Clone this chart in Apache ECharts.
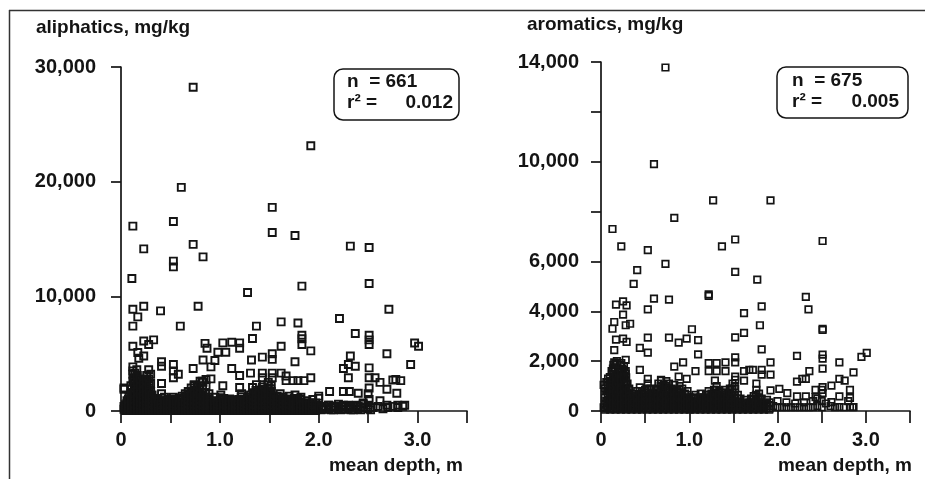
<!DOCTYPE html>
<html>
<head>
<meta charset="utf-8">
<script src="https://cdn.jsdelivr.net/npm/echarts@6/dist/echarts.min.js"></script>
<style>
  html, body { margin: 0; padding: 0; background: #fff; }
  #chart { width: 925px; height: 479px; }
</style>
</head>
<body>
<div id="chart"></div>
<script>
// aliphatics: scattered high values [depth m, mg/kg]
const aliHigh = [
  [0.73, 28230], [1.92, 23130], [0.61, 19500], [1.53, 17760], [0.12, 16120], [0.53, 16530],
  [1.53, 15570], [1.76, 15310], [0.23, 14140], [0.73, 14530], [2.32, 14380], [2.51, 14260],
  [0.83, 13440], [0.53, 13070], [0.53, 12570], [0.11, 11560], [1.83, 10890], [2.51, 11120],
  [1.28, 10340], [0.12, 8880], [0.23, 9140], [0.78, 9140], [0.40, 8730], [2.71, 8880],
  [0.17, 8210], [0.12, 7400], [0.60, 7400], [1.37, 7400], [1.62, 7770], [1.79, 7680],
  [2.21, 8070], [0.12, 5650], [0.23, 6100], [0.33, 6200], [0.28, 5800], [1.33, 6320],
  [1.83, 6600], [1.83, 6300], [1.83, 5800], [2.37, 6760], [2.51, 6600], [2.51, 6200],
  [2.51, 5800], [2.97, 5930], [3.01, 5650], [1.62, 5650], [1.92, 5240], [0.85, 5900],
  [0.87, 5470], [1.03, 5940], [1.12, 6000], [1.20, 5940], [1.20, 5470], [0.98, 5130],
  [0.95, 4400], [1.06, 5130], [2.69, 4990], [0.17, 5100], [0.23, 4800], [1.53, 4990],
  [1.53, 4500], [2.32, 4800], [1.43, 4700], [1.32, 4450], [0.83, 4450], [1.76, 4300],
  [0.41, 4300], [0.41, 3900], [0.91, 3850], [0.53, 4050], [2.93, 4050], [2.37, 3900],
  [2.30, 4050], [0.73, 3700], [1.12, 3700], [2.51, 3760], [2.25, 3700], [0.12, 3850],
  [0.12, 3500], [0.53, 3500], [0.53, 2900], [0.58, 3200], [1.20, 3100], [1.31, 3300],
  [1.43, 3300], [1.43, 2900], [1.53, 3300], [1.53, 2900], [1.62, 3300], [1.67, 3050],
  [2.30, 2900], [2.51, 2900], [2.57, 2900], [2.62, 2500], [2.75, 2700], [2.78, 2750],
  [2.83, 2650], [2.69, 1900], [2.79, 1550], [2.51, 2000], [2.40, 1550], [2.31, 1700],
  [2.25, 1700], [2.11, 1700], [1.92, 2900], [1.79, 2650], [1.85, 2650], [1.74, 2650],
  [1.67, 2650], [1.03, 2200], [1.20, 2050], [1.33, 2050], [0.91, 2800], [0.86, 2750],
  [0.82, 2600], [0.74, 2200], [0.03, 2000], [0.41, 2400], [2.62, 900], [2.69, 500],
  [2.80, 500], [2.87, 500], [2.45, 700], [2.51, 1000], [2.10, 500], [2.17, 450],
  [2.25, 500], [2.31, 450], [2.38, 500], [2.00, 1300]
];

// aliphatics: dense low band, [depth, values at that depth]
const aliLow = [
  [0.03, [150, 400, 1900]], [0.06, [100, 300, 650, 900]], [0.08, [200, 500, 800, 1200]],
  [0.10, [100, 350, 600, 1000, 1500, 2200]], [0.12, [150, 400, 700, 1100, 1600, 2600, 3200]],
  [0.14, [100, 300, 550, 900, 1300, 1800, 2400, 3300]], [0.16, [200, 450, 750, 1050, 1400, 2000, 2900, 3600]],
  [0.18, [100, 350, 600, 900, 1250, 1700, 2300, 4600]], [0.20, [150, 400, 700, 1000, 1400, 1900, 2700]],
  [0.22, [100, 300, 550, 850, 1150, 1600, 2100, 2600]], [0.24, [200, 450, 750, 1050, 1350, 1800, 2500]],
  [0.26, [100, 350, 650, 950, 1300, 1700, 2200, 3100]], [0.28, [150, 400, 700, 1000, 1500, 2000, 2800, 3600]],
  [0.30, [100, 300, 600, 900, 1200, 1700, 2400, 3200]], [0.32, [200, 500, 800, 1100]],
  [0.35, [100, 350, 650, 1000]], [0.38, [150, 450, 800]], [0.41, [100, 400, 700, 1100, 1500]],
  [0.44, [200, 500, 850, 1200]], [0.47, [100, 350, 700]], [0.50, [150, 450, 800, 1000]],
  [0.53, [100, 300, 600, 900, 1200]], [0.56, [200, 500, 750]], [0.59, [100, 400, 700, 1100]],
  [0.62, [150, 450, 800, 1300]], [0.65, [100, 350, 650, 950, 1500]], [0.68, [200, 500, 800, 1200, 1700]],
  [0.71, [100, 400, 750, 1100, 1600, 2000]], [0.74, [150, 450, 800, 1200, 1800, 2300]],
  [0.77, [100, 350, 700, 1000, 1400, 2100]], [0.80, [200, 500, 850, 1300, 1900, 2600]],
  [0.83, [100, 400, 750, 1100, 1600, 2500]], [0.86, [150, 450, 800, 1200, 2200]],
  [0.89, [100, 350, 700, 1000, 1500]], [0.92, [200, 500, 850]], [0.95, [100, 400, 700, 1200]],
  [0.98, [150, 450, 800]], [1.01, [100, 350, 650, 1000, 1400]], [1.04, [200, 500, 800, 1100]],
  [1.07, [100, 400, 700, 1000]], [1.10, [150, 450, 750, 1050]], [1.13, [100, 350, 650, 950]],
  [1.16, [200, 500, 800]], [1.19, [100, 400, 700, 1000]], [1.22, [150, 450, 750, 1050, 1500]],
  [1.25, [100, 350, 650, 950]], [1.28, [200, 500, 800, 1200]], [1.31, [100, 400, 700, 1000, 1400]],
  [1.34, [150, 450, 750, 1100, 1600]], [1.37, [100, 350, 700, 1050, 1500, 2300]],
  [1.40, [200, 500, 850, 1200, 1800]], [1.43, [100, 400, 750, 1100, 1600, 2100]],
  [1.46, [150, 450, 800, 1200, 1700]], [1.49, [100, 350, 700, 1050, 1500, 2000, 2500]],
  [1.52, [200, 500, 850, 1250, 1700, 2200]], [1.55, [100, 400, 750, 1100]],
  [1.58, [150, 450, 800, 1300]], [1.61, [100, 350, 650, 1000, 1500]], [1.64, [200, 500, 800, 1200]],
  [1.67, [100, 400, 700, 1050]], [1.70, [150, 450, 750, 1300]], [1.73, [100, 350, 650, 1000]],
  [1.76, [200, 500, 800, 1400]], [1.79, [100, 400, 700, 1100]], [1.82, [150, 450, 750, 1200]],
  [1.85, [100, 350, 650]], [1.88, [200, 500, 900]], [1.91, [100, 400, 700]], [1.94, [150, 450, 1000]],
  [1.97, [100, 350, 700]], [2.00, [200, 500, 1100]], [2.05, [150, 400]], [2.10, [200, 500]],
  [2.15, [100, 400]], [2.20, [200, 600]], [2.25, [150, 400]], [2.30, [200, 500]], [2.35, [100, 400]],
  [2.40, [200, 450]], [2.45, [300, 600]], [2.50, [200, 500, 1500]], [2.55, [300]], [2.60, [400]],
  [2.65, [200]], [2.70, [300]], [2.75, [400]], [2.80, [300]], [2.85, [400]]
];

// aliphatics: more low-band samples between the columns above
const aliLow2 = [
  [0.045, [50, 250, 550]], [0.075, [100, 300, 600, 1000]], [0.105, [50, 250, 500, 850, 1300, 1900]],
  [0.135, [100, 350, 600, 1000, 1500, 2100, 2800]], [0.165, [50, 250, 550, 900, 1200, 1700, 2500, 3100]],
  [0.195, [100, 300, 500, 800, 1100, 1500, 2100, 2800]], [0.225, [50, 250, 450, 750, 1000, 1400, 1900, 2400]],
  [0.255, [100, 300, 550, 850, 1150, 1500, 2000, 2700]], [0.285, [50, 250, 500, 800, 1100, 1300, 1800, 2300]],
  [0.315, [100, 350, 650, 1000, 1400]], [0.345, [50, 250, 500, 850]], [0.375, [100, 300, 600]],
  [0.405, [50, 250, 550, 900]], [0.435, [100, 350, 650]], [0.465, [50, 250, 500, 900]],
  [0.495, [100, 300, 600]], [0.525, [50, 250, 450, 750, 1000]], [0.555, [100, 350, 600, 900]],
  [0.585, [50, 250, 550]], [0.615, [100, 300, 600, 1000]], [0.645, [50, 250, 500, 800, 1200]],
  [0.675, [100, 350, 650, 1000, 1400]], [0.705, [50, 250, 550, 900, 1300]], [0.735, [100, 300, 600, 1000, 1500]],
  [0.765, [50, 250, 550, 850, 1200, 1700]], [0.795, [100, 350, 650, 1000, 1500, 2200]],
  [0.825, [50, 250, 550, 900, 1300, 2000]], [0.855, [100, 300, 600, 1000, 1600]],
  [0.885, [50, 250, 500, 850, 1200]], [0.915, [100, 350, 650]], [0.945, [50, 250, 550, 900]],
  [0.975, [100, 300, 600]], [1.005, [50, 250, 500, 800, 1150]], [1.035, [100, 350, 650, 950]],
  [1.065, [50, 250, 550, 850]], [1.095, [100, 300, 600, 900]], [1.125, [50, 250, 500, 800]],
  [1.155, [100, 350, 650]], [1.185, [50, 250, 550, 850]], [1.215, [100, 300, 600, 900, 1250]],
  [1.245, [50, 250, 500, 800]], [1.275, [100, 350, 650, 1000]], [1.305, [50, 250, 550, 850, 1200]],
  [1.335, [100, 300, 600, 950, 1350]], [1.365, [50, 250, 550, 900, 1250, 1800]],
  [1.395, [100, 350, 650, 1000, 1500]], [1.425, [50, 250, 550, 900, 1350, 1900]],
  [1.455, [100, 300, 600, 1000, 1450]], [1.485, [50, 250, 550, 900, 1250, 1750, 2300]],
  [1.515, [100, 350, 650, 1050, 1450, 1950]], [1.545, [50, 250, 550, 900, 1300]],
  [1.575, [100, 300, 600, 1000]], [1.605, [50, 250, 500, 850, 1200]], [1.635, [100, 350, 650, 1000]],
  [1.665, [50, 250, 550, 850]], [1.695, [100, 300, 600, 1000]], [1.725, [50, 250, 500, 850]],
  [1.755, [100, 350, 650, 1100]], [1.785, [50, 250, 550, 900]], [1.815, [100, 300, 600, 1000]],
  [1.845, [50, 250, 500]], [1.875, [100, 350, 700]], [1.905, [50, 250, 550]], [1.935, [100, 300, 700]],
  [1.965, [50, 250, 500]], [2.025, [100, 300]], [2.125, [100, 300]], [2.225, [100, 350]],
  [2.325, [100, 300]], [2.425, [100, 350]], [2.525, [100, 300]]
];

// aromatics: scattered high values
const aroHigh = [
  [0.73, 13780], [0.60, 9900], [1.27, 8450], [1.92, 8450], [0.83, 7750], [0.13, 7300],
  [0.23, 6600], [0.53, 6450], [1.37, 6600], [1.52, 6880], [2.51, 6820], [0.73, 5900],
  [0.41, 5650], [1.52, 5580], [0.37, 5100], [1.77, 5270], [1.22, 4680], [1.22, 4620],
  [0.60, 4510], [0.77, 4470], [2.32, 4580], [0.53, 4080], [1.82, 4200], [2.35, 4080],
  [1.62, 3930], [0.17, 4270], [0.25, 4400], [0.29, 4240], [0.25, 3870], [0.15, 3570],
  [0.13, 3300], [0.28, 3440], [0.33, 3500], [1.80, 3440], [2.51, 3300], [2.51, 3250],
  [1.62, 3130], [1.52, 2950], [1.03, 3280], [0.17, 2860], [0.25, 2900], [0.29, 2770],
  [0.53, 2940], [0.77, 2940], [0.88, 2740], [0.97, 2900], [1.10, 2840], [0.44, 2530],
  [0.15, 2440], [0.53, 2340], [1.10, 2270], [1.82, 2470], [2.22, 2210], [2.51, 2260],
  [2.51, 2100], [2.51, 1700], [3.01, 2330], [2.95, 2170],
  [0.15, 1950], [0.23, 1920], [0.28, 2050], [0.93, 1950], [1.22, 1920], [1.31, 1920],
  [1.41, 1950], [1.52, 2150], [1.52, 1950], [1.92, 1950], [2.70, 1950],
  [0.15, 1750], [0.44, 1650], [0.83, 1780], [1.07, 1600], [1.22, 1600], [1.31, 1600],
  [1.41, 1600], [1.62, 1600], [1.68, 1650], [1.72, 1650], [1.82, 1650], [1.82, 1460],
  [1.92, 1460], [2.36, 1600], [2.28, 1290], [2.32, 1290], [2.22, 1180], [2.86, 1550],
  [0.06, 1160], [0.10, 1360], [0.22, 1320], [0.28, 1490], [0.53, 1290], [0.68, 1220],
  [0.88, 1380], [0.97, 1290], [1.29, 1220], [1.52, 1380], [1.62, 1220], [2.70, 1290],
  [2.76, 1220], [2.61, 1020], [2.51, 960], [2.43, 850], [2.70, 585], [2.82, 850],
  [2.82, 530], [2.61, 360], [2.70, 160], [2.82, 160], [2.86, 160], [1.92, 825],
  [2.02, 890], [2.11, 720], [2.22, 585], [2.32, 585], [2.43, 560], [2.51, 720]
];

// aromatics: dense low band
const aroLow = [
  [0.03, [150, 1050]], [0.06, [100, 400, 800]], [0.08, [200, 600, 1000, 1300]], [0.10, [100, 350, 700, 1050]],
  [0.12, [200, 500, 850, 1200, 1600]], [0.14, [100, 400, 750, 1100, 1500, 1850]],
  [0.16, [200, 550, 900, 1250, 1700]], [0.18, [100, 350, 700, 1000, 1400, 2000]],
  [0.20, [200, 500, 850, 1200, 1600]], [0.22, [100, 400, 750, 1100, 1450, 1850]],
  [0.24, [200, 550, 900, 1300, 1700]], [0.26, [100, 350, 700, 1050, 1400, 1800]],
  [0.28, [200, 500, 850, 1200, 1600]], [0.30, [100, 400, 750, 1100]], [0.32, [200, 550, 900]],
  [0.35, [100, 350, 700]], [0.38, [200, 500]], [0.41, [100, 400, 800]], [0.44, [200, 550, 950]],
  [0.47, [100, 350, 700]], [0.50, [200, 500, 850]], [0.53, [100, 400, 750, 1100]], [0.56, [200, 550, 900]],
  [0.59, [100, 350, 700]], [0.62, [200, 500, 850]], [0.65, [100, 400, 750, 1100]],
  [0.68, [200, 550, 900, 1250]], [0.71, [100, 350, 700, 1050]], [0.74, [200, 500, 850, 1200]],
  [0.77, [100, 400, 750, 1100]], [0.80, [200, 550, 900]], [0.83, [100, 350, 700, 1050]],
  [0.86, [200, 500, 850]], [0.89, [100, 400, 750, 1000]], [0.92, [200, 550, 900]], [0.95, [100, 350, 700]],
  [0.98, [200, 500, 800]], [1.01, [100, 400]], [1.04, [200, 550]], [1.07, [100, 350, 650]],
  [1.10, [200, 500]], [1.13, [100, 400, 700]], [1.16, [200, 550]], [1.19, [100, 350, 650]],
  [1.22, [200, 500, 800]], [1.25, [100, 400, 700]], [1.28, [200, 550, 850]], [1.31, [100, 350, 700, 1000]],
  [1.34, [200, 500, 800]], [1.37, [100, 400, 750]], [1.40, [200, 550, 850]], [1.43, [100, 350, 700]],
  [1.46, [200, 500, 900]], [1.49, [100, 400, 750, 1100]], [1.52, [200, 550, 900, 1250]],
  [1.55, [100, 350, 650]], [1.58, [200, 500]], [1.61, [100, 300]], [1.64, [200, 450]], [1.67, [100, 350]],
  [1.70, [200, 500]], [1.73, [100, 300, 600]], [1.76, [200, 500, 850, 1100]], [1.79, [100, 350, 700]],
  [1.82, [200, 500]], [1.85, [100, 300]], [1.88, [200, 450]], [1.91, [100, 350]], [1.95, [200]],
  [2.00, [150, 400]], [2.05, [150]], [2.10, [150, 350]], [2.15, [150]], [2.20, [150, 300]], [2.25, [150]],
  [2.30, [150, 350]], [2.35, [150]], [2.40, [150, 400]], [2.45, [200, 500]], [2.50, [150, 400, 850]],
  [2.55, [300]], [2.60, [200]], [2.65, [150]], [2.75, [150]], [2.80, [400]], [2.85, [150]]
];

// aromatics: more low-band samples between the columns above
const aroLow2 = [
  [0.045, [50, 250, 550, 900]], [0.075, [100, 350, 700, 1150]], [0.105, [50, 250, 550, 900, 1200]],
  [0.135, [100, 300, 600, 950, 1300, 1700]], [0.165, [50, 250, 450, 750, 1100, 1450, 1900]],
  [0.195, [100, 300, 600, 900, 1250, 1600]], [0.225, [50, 250, 500, 850, 1200, 1550]],
  [0.255, [100, 300, 600, 950, 1300, 1650]], [0.285, [50, 250, 450, 750, 1050, 1350]],
  [0.315, [100, 300, 600, 850]], [0.345, [50, 250, 500]], [0.375, [100, 350, 600]], [0.405, [50, 250, 550]],
  [0.435, [100, 300, 650]], [0.465, [50, 250, 500, 800]], [0.495, [100, 350, 650]],
  [0.525, [50, 250, 550, 900]], [0.555, [100, 300, 650]], [0.585, [50, 250, 500]], [0.615, [100, 350, 650]],
  [0.645, [50, 250, 550, 900]], [0.675, [100, 300, 650, 1000]], [0.705, [50, 250, 500, 850]],
  [0.735, [100, 350, 650, 1000]], [0.765, [50, 250, 550, 900]], [0.795, [100, 300, 650]],
  [0.825, [50, 250, 500, 850]], [0.855, [100, 350, 650]], [0.885, [50, 250, 550, 850]],
  [0.915, [100, 300, 650]], [0.945, [50, 250, 500]], [0.975, [100, 350, 650]], [1.005, [50, 250, 550]],
  [1.035, [100, 300]], [1.065, [50, 250, 500]], [1.095, [100, 350]], [1.125, [50, 250, 550]],
  [1.155, [100, 300]], [1.185, [50, 250, 500]], [1.215, [100, 350, 650]], [1.245, [50, 250, 550]],
  [1.275, [100, 300, 650]], [1.305, [50, 250, 500, 850]], [1.335, [100, 350, 650]], [1.365, [50, 250, 550]],
  [1.395, [100, 300, 650]], [1.425, [50, 250, 500]], [1.455, [100, 350, 700]], [1.485, [50, 250, 550, 900]],
  [1.515, [100, 300, 650, 1000]], [1.545, [50, 250, 500]], [1.575, [100, 350]], [1.605, [50, 250]],
  [1.635, [100, 300]], [1.665, [50, 250]], [1.695, [100, 350]], [1.725, [50, 250, 450]],
  [1.755, [100, 300, 650]], [1.785, [50, 250, 550]], [1.815, [100, 350]], [1.845, [50, 250]],
  [1.875, [100, 300]], [1.905, [50, 250]]
];

const depthTicks = ['0', '1.0', '2.0', '3.0'];
const aroHiddenTicks = [8000, 12000];

function points(high, lows) {
  const out = high.slice();
  lows.forEach(function (low) {
    low.forEach(function (col) {
      col[1].forEach(function (v) { out.push([col[0], v]); });
    });
  });
  return out;
}

const ink = '#141414';
const font = 'Liberation Sans, Arial, sans-serif';

function xAxis(gridIndex) {
  return {
    gridIndex: gridIndex, type: 'value', min: 0, max: 3.5, interval: 0.5,
    axisLine: { lineStyle: { color: ink, width: 1.7 } },
    axisTick: { length: 12, lineStyle: { color: ink, width: 1.7 } },
    splitLine: { show: false },
    axisLabel: {
      margin: 19, fontSize: 20, fontWeight: 'bold', color: ink, fontFamily: font,
      formatter: function (v) {
        const s = v === 0 ? '0' : v.toFixed(1);
        return depthTicks.indexOf(s) >= 0 ? s : '';
      }
    }
  };
}

function yAxis(gridIndex, max, interval, margin) {
  return {
    gridIndex: gridIndex, type: 'value', min: 0, max: max, interval: interval,
    axisLine: { show: true, lineStyle: { color: ink, width: 1.7 } },
    axisTick: { show: true, length: 10, lineStyle: { color: ink, width: 1.7 } },
    splitLine: { show: false },
    axisLabel: {
      margin: margin, fontSize: 20, fontWeight: 'bold', color: ink, fontFamily: font,
      formatter: function (v) {
        if (aroHiddenTicks.indexOf(v) >= 0 && gridIndex === 1) return '';
        return v.toLocaleString('en-US');
      }
    }
  };
}

function txt(x, y, text, align, size) {
  return {
    type: 'text', x: x, y: y,
    style: { text: text, fill: ink, font: 'bold ' + (size || 19) + 'px ' + font,
      textAlign: align || 'left', textVerticalAlign: 'middle' }
  };
}

function box(x, y, w, h) {
  return {
    type: 'rect', shape: { x: x, y: y, width: w, height: h, r: 9 },
    style: { fill: '#fff', stroke: ink, lineWidth: 1.5 }
  };
}

const chart = echarts.init(document.getElementById('chart'));
chart.setOption({
  animation: false,
  backgroundColor: '#fff',
  grid: [
    { left: 121, top: 67, width: 346, height: 344 },
    { left: 601, top: 62, width: 309, height: 349 }
  ],
  xAxis: [xAxis(0), xAxis(1)],
  yAxis: [yAxis(0, 30000, 10000, 25), yAxis(1, 14000, 2000, 22)],
  series: [
    {
      type: 'scatter', xAxisIndex: 0, yAxisIndex: 0, symbol: 'rect', symbolSize: 7,
      itemStyle: { color: 'rgba(0,0,0,0)', borderColor: ink, borderWidth: 1.9, opacity: 1 },
      data: points(aliHigh, [aliLow, aliLow2])
    },
    {
      type: 'scatter', xAxisIndex: 1, yAxisIndex: 1, symbol: 'rect', symbolSize: 6.5,
      itemStyle: { color: 'rgba(0,0,0,0)', borderColor: ink, borderWidth: 1.7, opacity: 1 },
      data: points(aroHigh, [aroLow, aroLow2])
    }
  ],
  graphic: [
    { type: 'line', shape: { x1: 9, y1: 10.5, x2: 925, y2: 10.5 }, style: { stroke: '#333', lineWidth: 1.5 } },
    { type: 'line', shape: { x1: 9.5, y1: 10, x2: 9.5, y2: 479 }, style: { stroke: '#333', lineWidth: 1.5 } },
    txt(36, 28, 'aliphatics, mg/kg', 'left', 19),
    txt(527, 25, 'aromatics, mg/kg', 'left', 19),
    txt(463, 466, 'mean depth, m', 'right', 19),
    txt(912, 466, 'mean depth, m', 'right', 19),
    box(334, 69, 125, 51),
    txt(347, 82, 'n  = 661', 'left', 19),
    txt(347, 103, 'r² =', 'left', 19),
    txt(453, 103, '0.012', 'right', 19),
    box(777, 67, 131, 51),
    txt(792, 81, 'n  = 675', 'left', 19),
    txt(792, 102, 'r² =', 'left', 19),
    txt(899, 102, '0.005', 'right', 19)
  ]
});
</script>
</body>
</html>
